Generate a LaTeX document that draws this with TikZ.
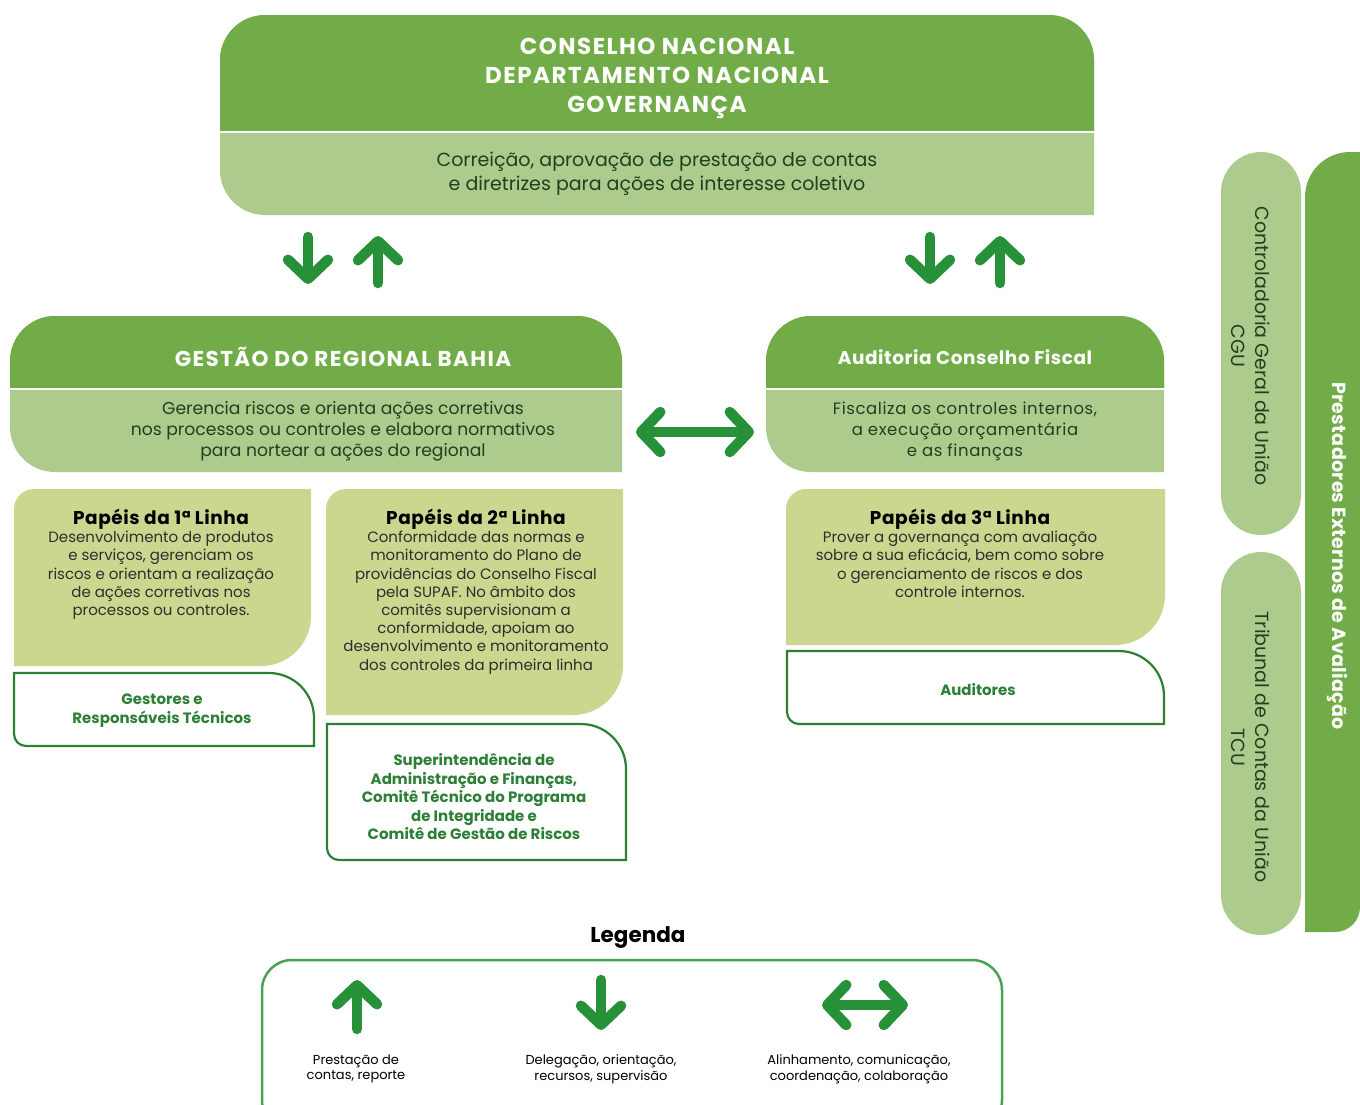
\documentclass[tikz,border=0pt]{standalone}
\usepackage{fontspec}
\setmainfont{Poppins}
\usetikzlibrary{arrows.meta}
\definecolor{dkgreen}{HTML}{71AC48}
\definecolor{ltgreen}{HTML}{ADCB8D}
\definecolor{papgreen}{HTML}{CBD68F}
\definecolor{arrgreen}{HTML}{27913A}
\definecolor{olgreen}{HTML}{2D7F36}
\definecolor{txtgreen}{HTML}{1C421E}
\definecolor{bodygray}{HTML}{2E2E2E}
% rounded box: x1 y1 x2 y2 rTL rTR rBR rBL (y downwards)
\newcommand\rbox[8]{(#1,#2+#5) .. controls (#1,#2+0.448*#5) and (#1+0.448*#5,#2) .. (#1+#5,#2)
 -- (#3-#6,#2) .. controls (#3-0.448*#6,#2) and (#3,#2+0.448*#6) .. (#3,#2+#6)
 -- (#3,#4-#7) .. controls (#3,#4-0.448*#7) and (#3-0.448*#7,#4) .. (#3-#7,#4)
 -- (#1+#8,#4) .. controls (#1+0.448*#8,#4) and (#1,#4-0.448*#8) .. (#1,#4-#8) -- cycle}
\newcommand\fsz[2]{\fontsize{#1}{#2}\selectfont}
\newcommand\lsp[1]{\addfontfeature{LetterSpace=#1}}
\tikzset{
  head/.style={text=white, font=\fsz{23}{29}\bfseries\lsp{6.5}, align=center, inner sep=0pt},
  sub/.style={text=txtgreen, font=\fsz{17.2}{21}, align=center, inner sep=0pt},
  paptitle/.style={text=black, font=\fsz{18.5}{20}\bfseries\lsp{3}, inner sep=0pt},
  papbody/.style={text=bodygray, font=\fsz{15}{18.2}, align=center, inner sep=0pt},
  roletxt/.style={text=olgreen, font=\fsz{15}{19}\bfseries, align=center, inner sep=0pt},
  outbox/.style={draw=olgreen, line width=2.2pt, fill=white},
  sep/.style={draw=white, line width=2.5pt},
  garrow/.style={draw=arrgreen, line width=10.5pt, line cap=round,
     -{Straight Barb[round, length=19pt, width=40pt]}},
  gdarrow/.style={draw=arrgreen, line width=10.5pt, line cap=round,
     {Straight Barb[round, length=19pt, width=40pt]}-{Straight Barb[round, length=19pt, width=40pt]}},
  legtxt/.style={text=black, font=\fsz{13}{15.5}, align=center, inner sep=0pt},
}
\begin{document}
\begin{tikzpicture}[x=1pt,y=-1pt]
\useasboundingbox (0,0) rectangle (1360,1104);
\fill[white] (0,0) rectangle (1360,1104);

% ---------- top box ----------
\fill[ltgreen] \rbox{220}{15}{1094}{215}{45}{45}{0}{45};
\fill[dkgreen] \rbox{220}{15}{1094}{131}{45}{45}{0}{0};
\draw[sep] (220,132) -- (1094,132);
\node[head] (topHead) at (657,78) {CONSELHO NACIONAL\\DEPARTAMENTO NACIONAL\\GOVERNANÇA};
\node[sub, font=\fsz{19}{24}] (topSub) at (657,174) {Correição, aprovação de prestação de contas\\e diretrizes para ações de interesse coletivo};

% ---------- vertical arrow pairs ----------
\coordinate (a1s) at (308,237); \coordinate (a1e) at (308,284);
\coordinate (a2s) at (378,283); \coordinate (a2e) at (378,236);
\coordinate (a3s) at (930,237); \coordinate (a3e) at (930,284);
\coordinate (a4s) at (1000,283); \coordinate (a4e) at (1000,236);
\draw[garrow] (a1s) -- (a1e);
\draw[garrow] (a2s) -- (a2e);
\draw[garrow] (a3s) -- (a3e);
\draw[garrow] (a4s) -- (a4e);

% ---------- Gestao box ----------
\fill[ltgreen] \rbox{10}{316}{622}{472}{45}{45}{0}{45};
\fill[dkgreen] \rbox{10}{316}{622}{388}{45}{45}{0}{0};
\draw[sep] (10,389) -- (622,389);
\node[head, font=\fsz{21.5}{24}\bfseries\lsp{6.5}] (gestHead) at (343,357) {GESTÃO DO REGIONAL BAHIA};
\node[sub] (gestSub) at (343,431) {Gerencia riscos e orienta ações corretivas\\nos processos ou controles e elabora normativos\\para nortear a ações do regional};

% ---------- Auditoria box ----------
\fill[ltgreen] \rbox{766}{316}{1164}{472}{45}{45}{0}{45};
\fill[dkgreen] \rbox{766}{316}{1164}{388}{45}{45}{0}{0};
\draw[sep] (766,389) -- (1164,389);
\node[head, font=\fsz{18.5}{22}\bfseries\lsp{3}] (audHead) at (965,357) {Auditoria Conselho Fiscal};
\node[sub, font=\fsz{16.5}{21}\lsp{3.5}] (audSub) at (965,431) {Fiscaliza os controles internos,\\a execução orçamentária\\e as finanças};

% double arrow
\coordinate (dl) at (636,432); \coordinate (dr) at (754,432);
\draw[gdarrow] (dl) -- (dr);

% ---------- Papeis 1 ----------
\fill[papgreen] \rbox{14}{489}{311}{666}{20}{0}{50}{0};
\node[paptitle] (p1t) at (161,519) {Papéis da 1ª Linha};
\node[papbody, anchor=north] (p1b) at (161,531) {Desenvolvimento de produtos\\e serviços, gerenciam os\\riscos e orientam a realização\\de ações corretivas nos\\processos ou controles.};
\draw[outbox] \rbox{14}{673}{314}{746}{0}{45}{0}{12};
\node[roletxt] (r1) at (162,711) {Gestores e\\Responsáveis Técnicos};

% ---------- Papeis 2 ----------
\fill[papgreen] \rbox{326}{489}{623}{715}{20}{0}{50}{0};
\node[paptitle] (p2t) at (476,519) {Papéis da 2ª Linha};
\node[papbody, anchor=north] (p2b) at (476,531) {Conformidade das normas e\\monitoramento do Plano de\\providências do Conselho Fiscal\\pela SUPAF. No âmbito dos\\comitês supervisionam a\\conformidade, apoiam ao\\desenvolvimento e monitoramento\\dos controles da primeira linha};
\draw[outbox] \rbox{327}{724}{626}{860}{0}{45}{0}{12};
\node[roletxt, font=\fsz{15}{18.5}\bfseries] (r2) at (474,797) {Superintendência de\\Administração e Finanças,\\Comitê Técnico do Programa\\de Integridade e\\Comitê de Gestão de Riscos};

% ---------- Papeis 3 ----------
\fill[papgreen] \rbox{786}{489}{1165}{645}{20}{0}{50}{0};
\node[paptitle] (p3t) at (960,519) {Papéis da 3ª Linha};
\node[papbody, anchor=north] (p3b) at (960,531) {Prover a governança com avaliação\\sobre a sua eficácia, bem como sobre\\o gerenciamento de riscos e dos\\controle internos.};
\draw[outbox] \rbox{787}{651}{1164}{724}{0}{45}{0}{12};
\node[roletxt] (r3) at (978,690) {Auditores};

% ---------- right column ----------
\fill[ltgreen] \rbox{1221}{152}{1301}{535}{40}{40}{40}{40};
\fill[ltgreen] \rbox{1221}{552}{1301}{935}{40}{40}{40}{40};
\fill[dkgreen] \rbox{1305}{152}{1360}{932}{45}{0}{25}{0};
\node[sub, font=\fsz{19}{24}, rotate=-90] (cgu) at (1251,346) {Controladoria Geral da União\\CGU};
\node[sub, font=\fsz{19}{24}, rotate=-90] (tcu) at (1251,747) {Tribunal de Contas da União\\TCU};
\node[head, font=\fsz{19}{22}\bfseries\lsp{1.5}, rotate=-90] (prest) at (1338,556) {Prestadores Externos de Avaliação};

% ---------- legend ----------
\node[text=black, font=\fsz{21.5}{24}\bfseries, inner sep=0pt] (legT) at (638,937) {Legenda};
\draw[draw=arrgreen!85!white, line width=2.5pt] \rbox{262}{960}{1002}{1130}{30}{30}{30}{30};
\coordinate (l1s) at (357,1029); \coordinate (l1e) at (357,980);
\coordinate (l2s) at (601,980); \coordinate (l2e) at (601,1030);
\coordinate (l3s) at (822,1005); \coordinate (l3e) at (908,1005);
\draw[garrow] (l1s) -- (l1e);
\draw[garrow] (l2s) -- (l2e);
\draw[gdarrow] (l3s) -- (l3e);
\node[legtxt] (lt1) at (356,1069) {Prestação de\\contas, reporte};
\node[legtxt] (lt2) at (601,1069) {Delegação, orientação,\\recursos, supervisão};
\node[legtxt] (lt3) at (859,1069) {Alinhamento, comunicação,\\coordenação, colaboração};
\end{tikzpicture}
\end{document}
